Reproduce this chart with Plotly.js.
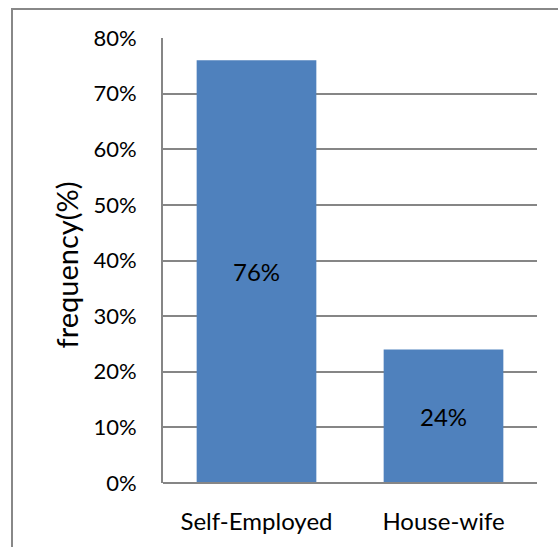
<!DOCTYPE html>
<html>
<head>
<meta charset="utf-8">
<script src="https://cdn.plot.ly/plotly-3.0.1.min.js"></script>
<style>
html,body{margin:0;padding:0;background:#fff;}
#wrap{position:relative;width:558px;height:547px;overflow:hidden;}
#chart{position:absolute;left:0;top:0;width:558px;height:547px;}
#frame{position:absolute;left:11px;top:8px;width:600px;height:600px;border:2px solid #888;box-sizing:border-box;pointer-events:none;}
</style>
</head>
<body>
<div id="wrap"><div id="chart"></div><div id="frame"></div></div>
<script>
const categories = ["Self-Employed", "House-wife"];
const frequency = [0.76, 0.24];
const valueLabels = ["76%", "24%"];
const yTickValues = [0, 0.1, 0.2, 0.3, 0.4, 0.5, 0.6, 0.7, 0.8];
const yTickLabels = ["0%", "10%", "20%", "30%", "40%", "50%", "60%", "70%", "80%"];
const yTitle = "frequency(%)";

const font = "Lato, 'Liberation Sans', sans-serif";

Plotly.newPlot("chart", [{
  type: "bar",
  x: categories,
  y: frequency,
  text: valueLabels,
  textposition: "inside",
  insidetextanchor: "middle",
  textangle: 0,
  textfont: {family: font, size: 24, color: "#000"},
  marker: {color: "#4F81BD", line: {width: 0}},
  hoverinfo: "none"
}], {
  width: 558, height: 547,
  margin: {l: 163, r: 21, t: 38, b: 64, pad: 0},
  paper_bgcolor: "#fff", plot_bgcolor: "#fff",
  bargap: 0.36,
  showlegend: false,
  font: {family: font, size: 22, color: "#000"},
  xaxis: {
    showgrid: false, zeroline: false,
    showline: false,
    ticks: "outside", ticklen: 17, tickcolor: "rgba(0,0,0,0)",
    tickfont: {family: font, size: 24, color: "#000"}
  },
  yaxis: {
    range: [0, 0.8],
    tickvals: yTickValues, ticktext: yTickLabels,
    showgrid: true, gridcolor: "#868686", gridwidth: 2,
    zeroline: false,
    showline: true, linecolor: "#868686", linewidth: 2,
    ticks: "outside", ticklen: 20, tickcolor: "rgba(0,0,0,0)",
    tickfont: {family: font, size: 22, color: "#000"}
  },
  shapes: [{type: "line", xref: "paper", yref: "paper", x0: 0, x1: 1, y0: 0, y1: 0, line: {color: "#868686", width: 2}}],
  annotations: [{
    text: yTitle, xref: "paper", yref: "paper",
    x: -0.258, y: 0.49, xanchor: "center", yanchor: "middle",
    textangle: -90, showarrow: false,
    font: {family: font, size: 29, color: "#000"}
  }]
}, {displayModeBar: false, staticPlot: true});
</script>
</body>
</html>
